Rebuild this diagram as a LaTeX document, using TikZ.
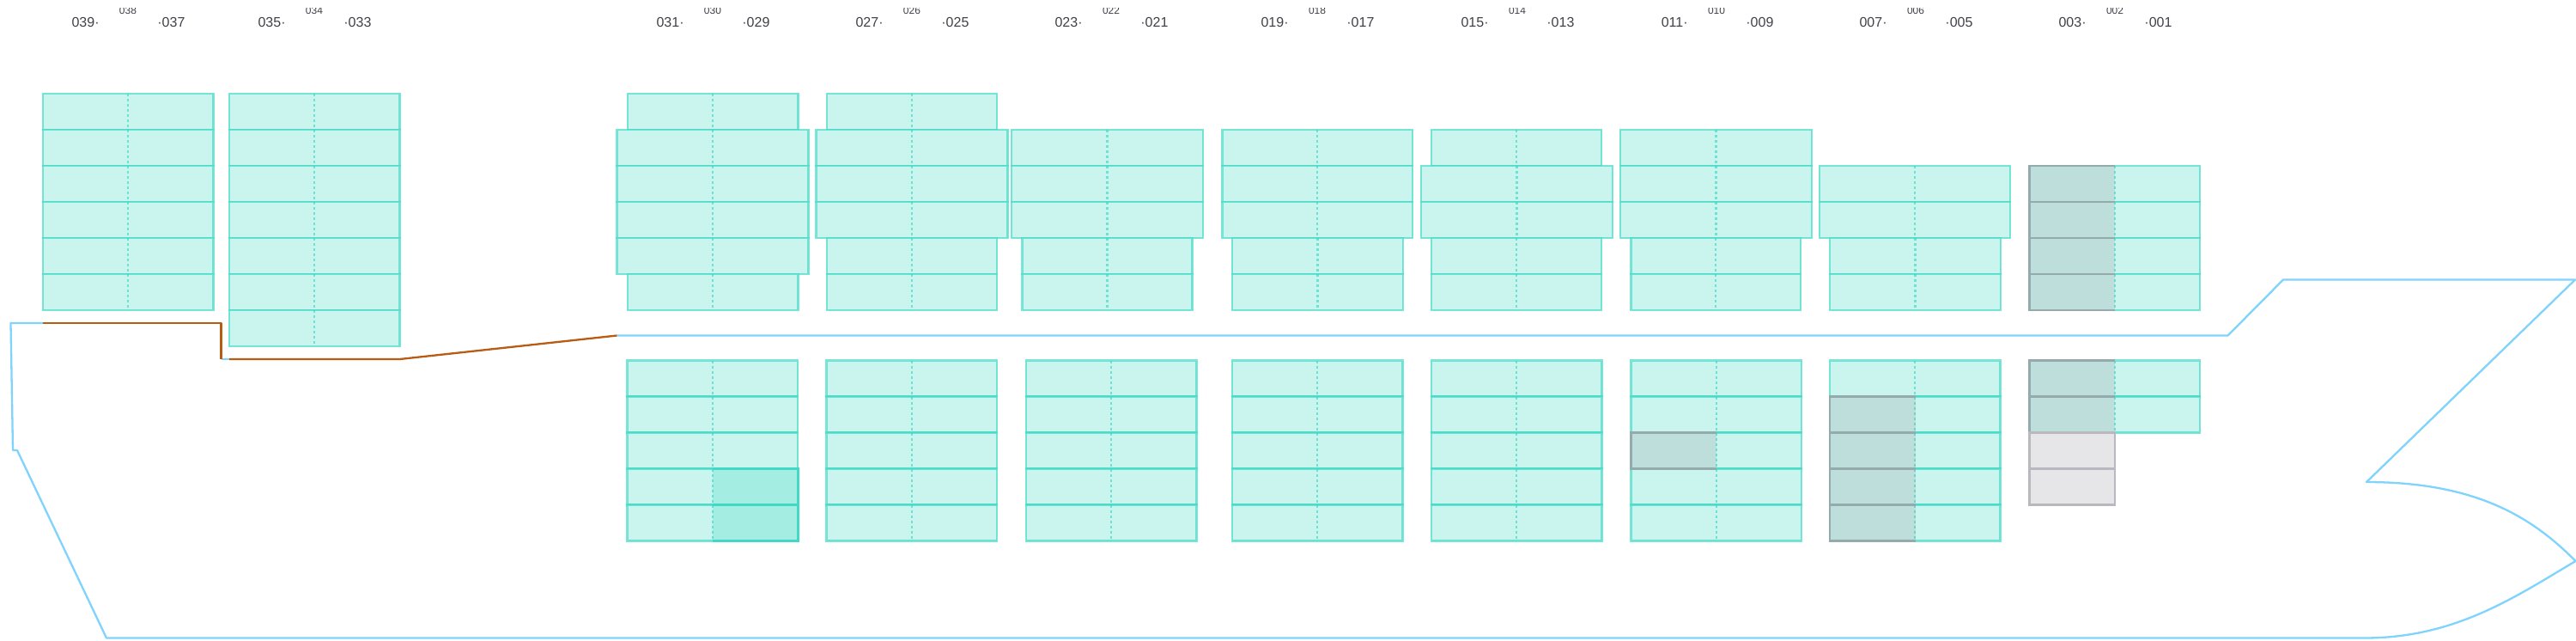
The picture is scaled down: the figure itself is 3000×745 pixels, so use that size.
\documentclass[tikz,border=0pt]{standalone}
\usepackage{fontspec}
\setmainfont{Liberation Sans}
\usetikzlibrary{calc}

\definecolor{bayline}{HTML}{3FD9C5}
\definecolor{bayfill}{HTML}{CAF5EF}
\definecolor{hullblue}{HTML}{7FD3FC}
\definecolor{hullrust}{HTML}{B85C14}
\definecolor{labelgrey}{HTML}{404048}
\definecolor{darkfill}{HTML}{9E9DA3}
\definecolor{darkline}{HTML}{93ABAD}
\definecolor{greyfill}{HTML}{E6E6E8}
\definecolor{greyline}{HTML}{B9B7BF}

\tikzset{
	bay/.style={draw=bayline,draw opacity=0.68,line width=1.05pt,fill=bayfill},
	baymid/.style={draw=bayline,draw opacity=0.68,line width=1.05pt,dash pattern=on 1.5pt off 1.5pt},
	slotdark/.style={fill=darkfill,fill opacity=0.25},
	slotedge/.style={draw=darkline,line width=1.05pt},
	slotgrey/.style={draw=greyline,line width=1.05pt,fill=greyfill},
	slotgreen/.style={fill=bayline,fill opacity=0.28},
	greenedge/.style={draw=bayline,line width=1.05pt},
	hull/.style={draw=hullblue,line width=1.15pt,line join=round},
	wall/.style={draw=hullrust,line width=1.15pt,line join=round},
	baylabel/.style={font=\fontsize{8pt}{10pt}\selectfont,text=labelgrey,inner sep=0pt},
	midlabel/.style={font=\fontsize{6pt}{7pt}\selectfont,text=labelgrey,inner sep=0pt}
}

\begin{document}
\begin{tikzpicture}[x=0.5pt,y=-0.5pt]

	\useasboundingbox (0,0) rectangle (3000,745);

	% upper deck: left edge / right edge / first row / last row
	\foreach \xa/\xb/\ra/\rb in {
		50/248.5/0/5, 267/465.5/0/6,
		731/929.5/0/0, 718.5/941.5/1/4, 731/929.5/5/5,
		963/1161/0/0, 950.5/1173.5/1/3, 963/1161/4/5,
		1178/1401/1/3, 1190.5/1388.5/4/5,
		1423.5/1645/1/3, 1435/1634/4/5,
		1667/1865/1/1, 1655/1878/2/3, 1667/1865/4/5,
		1887/2110/1/3, 1899.5/2097/4/5,
		2119/2341/2/3, 2131/2330/4/5,
		2363.5/2562/2/5} {
		\foreach \r in {\ra,...,\rb} {
			\draw[bay] (\xa,109+42*\r) rectangle (\xb,151+42*\r);
			\draw[baymid] ({(\xa+\xb)/2},109+42*\r) -- ({(\xa+\xb)/2},151+42*\r);
		}
	}

	% lower deck
	\foreach \xa in {730.5,962.5,1195,1435,1667,1899.5,2131} {
		\foreach \r in {0,...,4} {
			\draw[bay] (\xa,419.5+42*\r) rectangle (\xa+198.5,461.5+42*\r);
			\draw[baymid] (\xa+99.25,419.5+42*\r) -- (\xa+99.25,461.5+42*\r);
		}
	}
	\foreach \r in {0,1} {
		\draw[bay] (2363.5,419.5+42*\r) rectangle (2562,461.5+42*\r);
		\draw[baymid] (2463,419.5+42*\r) -- (2463,461.5+42*\r);
	}

	% occupied slots
	\foreach \r in {2,...,5} {
		\fill[slotdark] (2363.5,109+42*\r) rectangle (2463,151+42*\r);
		\draw[slotedge] (2463,109+42*\r) -- (2363.5,109+42*\r) -- (2363.5,151+42*\r) -- (2463,151+42*\r);
	}
	\foreach \xa/\r in {1899.5/2, 2131/1, 2131/2, 2131/3, 2131/4, 2363.5/0, 2363.5/1} {
		\fill[slotdark] (\xa,419.5+42*\r) rectangle (\xa+99.5,461.5+42*\r);
		\draw[slotedge] (\xa+99.5,419.5+42*\r) -- (\xa,419.5+42*\r) -- (\xa,461.5+42*\r) -- (\xa+99.5,461.5+42*\r);
	}
	\foreach \r in {2,3} {
		\draw[slotgrey] (2363.5,419.5+42*\r) rectangle (2463,461.5+42*\r);
	}
	\foreach \r in {3,4} {
		\fill[slotgreen] (830,419.5+42*\r) rectangle (929.5,461.5+42*\r);
		\draw[greenedge] (830,419.5+42*\r) -- (929.5,419.5+42*\r) -- (929.5,461.5+42*\r) -- (830,461.5+42*\r);
	}

	% hull outline
	\coordinate (sternTop) at (12.5,376);
	\coordinate (wallA) at (50,376);
	\coordinate (wallB) at (257.5,376);
	\coordinate (wallC) at (257.5,418);
	\coordinate (wallD) at (267,418);
	\coordinate (wallE) at (465.5,418);
	\coordinate (wallF) at (718.5,390.5);
	\coordinate (deckEnd) at (2594.5,390.5);
	\coordinate (bowTop) at (2659,325.5);
	\coordinate (bowTip) at (2999,325.5);
	\coordinate (notch) at (2756,561);
	\coordinate (stem) at (2999.5,653);
	\coordinate (keelEnd) at (2754,742.5);
	\coordinate (keelStart) at (124,742.5);
	\coordinate (sternB) at (20,524);
	\coordinate (sternC) at (15,524);

	\draw[hull] (wallA) -- (sternTop) -- (sternC) -- (sternB) -- (keelStart) -- (keelEnd)
		.. controls (2860,742.5) and (2930,694) .. (stem)
		.. controls (2950,603) and (2885,561) .. (notch)
		-- (bowTip) -- (bowTop) -- (deckEnd) -- (wallF);
	\draw[hull] (wallC) -- (wallD);
	\draw[wall] (wallA) -- (wallB) -- (wallC);
	\draw[wall] (wallD) -- (wallE) -- (wallF);

	% bay labels, cut off at the top
	\begin{scope}
		\clip (0,9) rectangle (3000,745);
		\foreach \xm/\la/\lb/\lc in {
			149/039/038/037, 366/035/034/033, 830/031/030/029, 1062/027/026/025,
			1294/023/022/021, 1534/019/018/017, 1767/015/014/013, 1999/011/010/009,
			2231/007/006/005, 2463/003/002/001} {
			\node[baylabel,anchor=base east] (bay\la) at (\xm-33,31) {\la·};
			\node[midlabel,anchor=base] (bay\lb) at (\xm,16) {\lb};
			\node[baylabel,anchor=base west] (bay\lc) at (\xm+34,31) {·\lc};
		}
	\end{scope}

\end{tikzpicture}
\end{document}
